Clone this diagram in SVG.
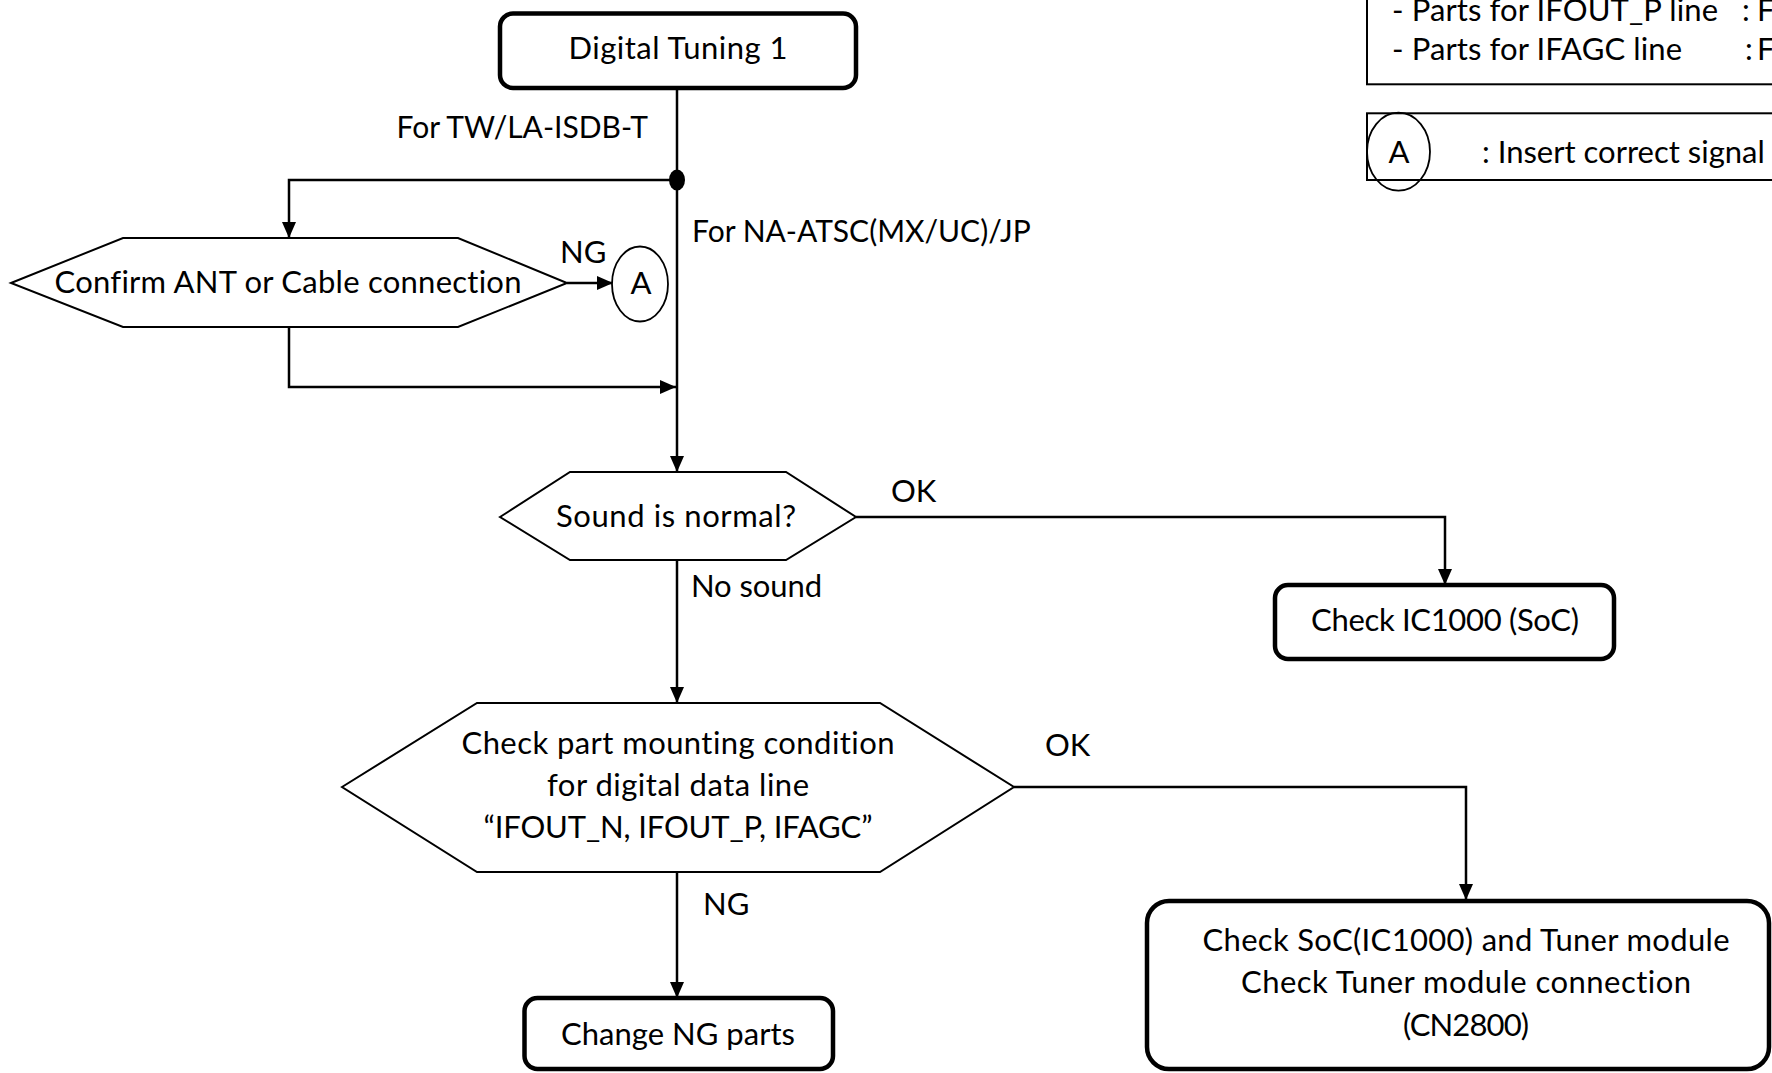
<svg xmlns="http://www.w3.org/2000/svg" width="1772" height="1073" viewBox="0 0 1772 1073">
<style>
.t{font-family:Lato,"Open Sans","Liberation Sans",sans-serif;font-size:31px;fill:#000;font-variant-ligatures:none}
.s{font-size:30px}
.c{text-anchor:middle}
.box{fill:#fff;stroke:#000;stroke-width:4.5}
.hex{fill:#fff;stroke:#000;stroke-width:2}
.ln{fill:none;stroke:#000;stroke-width:2.5}
.leg{fill:#fff;stroke:#000;stroke-width:2}
.circ{fill:none;stroke:#000;stroke-width:1.8}
</style>
<defs>
<marker id="arr" markerUnits="userSpaceOnUse" markerWidth="16" markerHeight="14" refX="16" refY="7" orient="auto">
<path d="M0,0 L16,7 L0,14 z" fill="#000"/>
</marker>
</defs>
<rect width="1772" height="1073" fill="#fff"/>
<g id="connectors">
<path class="ln" d="M677,88 V472" marker-end="url(#arr)"/>
<path class="ln" d="M677,180 H289 V238" marker-end="url(#arr)"/>
<path class="ln" d="M289,327 V387 H676" marker-end="url(#arr)"/>
<path class="ln" d="M567,283 H613" marker-end="url(#arr)"/>
<path class="ln" d="M856,517 H1445 V585" marker-end="url(#arr)"/>
<path class="ln" d="M677,560 V703" marker-end="url(#arr)"/>
<path class="ln" d="M1014,787 H1466 V900" marker-end="url(#arr)"/>
<path class="ln" d="M677,872 V998" marker-end="url(#arr)"/>
<ellipse cx="677" cy="180" rx="8" ry="10.5" fill="#000"/>
<text class="t s" x="648" y="138" text-anchor="end">For TW/LA-ISDB-T</text>
<text class="t s" x="692" y="242">For NA-ATSC(MX/UC)/JP</text>
<text class="t" x="560" y="263">NG</text>
<text class="t" x="891" y="502">OK</text>
<text class="t" x="691" y="597" textLength="131" lengthAdjust="spacing">No sound</text>
<text class="t" x="1045" y="756">OK</text>
<text class="t" x="703" y="915">NG</text>
</g>
<g id="start">
<rect class="box" x="500" y="13.5" width="356" height="74.5" rx="13"/>
<text class="t c" x="678" y="59" textLength="219" lengthAdjust="spacing">Digital Tuning 1</text>
</g>
<g id="confirm">
<polygon class="hex" points="11,283 123,238 458,238 567,283 458,327 123,327"/>
<text class="t c" x="288" y="293" textLength="467" lengthAdjust="spacing">Confirm ANT or Cable connection</text>
</g>
<g id="connA">
<ellipse class="circ" cx="640" cy="284" rx="28" ry="37.5" style="fill:#fff"/>
<text class="t c" x="641" y="294">A</text>
</g>
<g id="sound">
<polygon class="hex" points="500,517 570,472 786,472 856,517 786,560 570,560"/>
<text class="t c" x="676" y="527" textLength="240" lengthAdjust="spacing">Sound is normal?</text>
</g>
<g id="checkic">
<rect class="box" x="1275" y="585" width="339" height="74" rx="13"/>
<text class="t c" x="1445" y="631" textLength="268" lengthAdjust="spacing">Check IC1000 (SoC)</text>
</g>
<g id="mount">
<polygon class="hex" points="342,787 477,703 880,703 1014,787 880,872 477,872"/>
<text class="t c" x="678" y="754" textLength="433" lengthAdjust="spacing">Check part mounting condition</text>
<text class="t c" x="678" y="796" textLength="262" lengthAdjust="spacing">for digital data line</text>
<text class="t c" x="678" y="838" textLength="389" lengthAdjust="spacing">“IFOUT_N, IFOUT_P, IFAGC”</text>
</g>
<g id="change">
<rect class="box" x="524.5" y="998" width="308.5" height="71" rx="13"/>
<text class="t c" x="678" y="1045" textLength="234" lengthAdjust="spacing">Change NG parts</text>
</g>
<g id="checksoc">
<rect class="box" x="1147" y="901" width="622" height="168" rx="22"/>
<text class="t c" x="1466" y="951" textLength="527" lengthAdjust="spacing">Check SoC(IC1000) and Tuner module</text>
<text class="t c" x="1466" y="993" textLength="450" lengthAdjust="spacing">Check Tuner module connection</text>
<text class="t c" x="1466" y="1036" textLength="126" lengthAdjust="spacing">(CN2800)</text>
</g>
<g id="legend1">
<rect class="leg" x="1367" y="-10" width="420" height="94.3"/>
<text class="t" x="1392" y="21" textLength="326" lengthAdjust="spacing">- Parts for IFOUT_P line</text>
<text class="t" x="1742" y="21">:</text>
<text class="t" x="1757" y="21">F</text>
<text class="t" x="1392" y="60" textLength="290" lengthAdjust="spacing">- Parts for IFAGC line</text>
<text class="t" x="1745" y="60">:</text>
<text class="t" x="1757" y="60">F</text>
</g>
<g id="legend2">
<rect class="leg" x="1367" y="113.3" width="420" height="66.7"/>
<ellipse class="circ" cx="1398.5" cy="151.7" rx="31.5" ry="39"/>
<text class="t c" x="1399" y="163">A</text>
<text class="t" x="1482" y="163">: Insert correct signal</text>
</g>
</svg>
